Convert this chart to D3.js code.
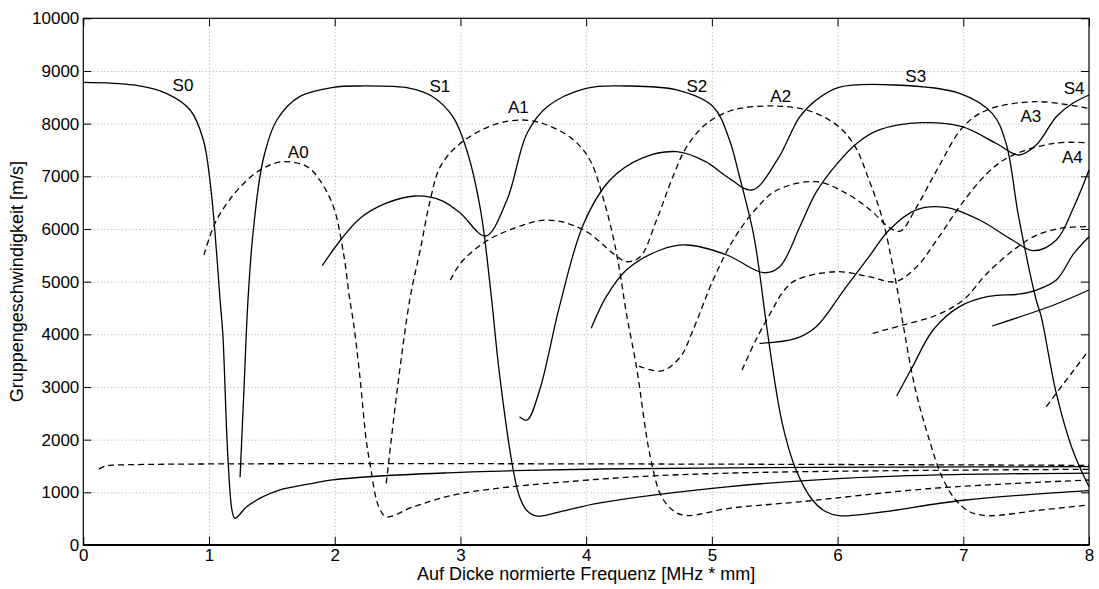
<!DOCTYPE html>
<html>
<head>
<meta charset="utf-8">
<script src="https://cdn.jsdelivr.net/npm/d3@7"></script>
<style>
  body { margin: 0; background: #fff; }
  svg { display: block; font-family: "Liberation Sans", Arial, sans-serif; }
  .grid line { stroke: #aaa; stroke-dasharray: 1,2.5; }
  .grid .domain { display: none; }
  .axis text { font-size: 17px; fill: #000; }
  .axis line { stroke: #000; }
  .axis .domain { display: none; }
  .mode { fill: none; stroke: #000; stroke-width: 1.3; }
  .mode--a { stroke-dasharray: 6,4; }
  .mode-label { font-size: 17px; }
  .axis-title { font-size: 18px; }
</style>
</head>
<body>
<div id="chart"></div>
<script>
const W = 1099, H = 589;
const margin = {left: 83.3, top: 18.3, right: 10, bottom: 44};

const xTicks = [0, 1, 2, 3, 4, 5, 6, 7, 8];
const yTicks = [0, 1000, 2000, 3000, 4000, 5000, 6000, 7000, 8000, 9000, 10000];

// symmetric modes (solid), [frequency*thickness, group velocity]
const s0 = [[0, 8785], [0.4, 8734], [0.66, 8576], [0.85, 8259], [0.955, 7690], [1.01, 6867],
  [1.048, 5918], [1.088, 4652], [1.11, 4000], [1.15, 1677], [1.185, 632], [1.207, 506],
  [1.3, 727], [1.43, 917], [1.56, 1044], [1.8, 1160], [2.0, 1240], [2.36, 1310], [2.9, 1370],
  [3.42, 1411], [4.11, 1443], [5.14, 1465], [6.5, 1480], [8, 1487]];
const s1 = [[1.247, 1285], [1.278, 2950], [1.31, 4652], [1.35, 5918], [1.43, 7310], [1.54, 8069],
  [1.72, 8512], [1.99, 8690], [2.2, 8715], [2.6, 8671], [2.78, 8512], [2.94, 8132], [3.05, 7500],
  [3.16, 6360], [3.24, 4841], [3.31, 3260], [3.42, 1424], [3.47, 917], [3.53, 650], [3.61, 550],
  [3.79, 630], [4.11, 800], [5.14, 1110], [6.0, 1260], [6.8, 1330], [8, 1365]];
const s2 = [[1.9, 5303], [2.05, 5800], [2.2, 6200], [2.4, 6480], [2.64, 6626], [2.85, 6540],
  [3.0, 6297], [3.2, 5867], [3.37, 6550], [3.53, 7817], [3.69, 8322], [4.0, 8671], [4.32, 8715],
  [4.72, 8639], [5.01, 8322], [5.14, 7690], [5.22, 6993], [5.33, 5918], [5.38, 5159], [5.44, 4082],
  [5.56, 2310], [5.67, 1424], [5.8, 854], [5.9, 640], [6.01, 557], [6.3, 610], [7.0, 850], [8, 1031]];
const s3 = [[3.47, 2436], [3.53, 2373], [3.63, 2943], [3.79, 4550], [3.98, 6100], [4.19, 6930],
  [4.45, 7350], [4.72, 7468], [4.95, 7280], [5.12, 6993], [5.32, 6740], [5.52, 7310], [5.7, 8132],
  [5.83, 8449], [6.01, 8690], [6.46, 8734], [6.97, 8576], [7.23, 8196], [7.34, 7627], [7.44, 6233],
  [7.58, 4652], [7.62, 4335], [7.74, 2880], [7.87, 1804], [8.0, 1107]];
const s4 = [[4.04, 4114], [4.16, 4715], [4.32, 5221], [4.59, 5601], [4.8, 5696], [5.12, 5506],
  [5.41, 5170], [5.54, 5284], [5.7, 6043], [5.83, 6700], [6.0, 7250], [6.15, 7620], [6.33, 7880],
  [6.67, 8018], [6.99, 7942], [7.26, 7627], [7.44, 7405], [7.58, 7595], [7.74, 8132], [7.87, 8386],
  [8.0, 8544]];
const s5 = [[5.38, 3829], [5.67, 3924], [5.83, 4145], [6.05, 4841], [6.25, 5474], [6.41, 5981],
  [6.62, 6360], [6.86, 6411], [7.13, 6170], [7.39, 5791], [7.56, 5588], [7.74, 5791], [7.88, 6423],
  [8.0, 7120]];
const s6 = [[6.47, 2829], [6.59, 3355], [6.76, 4082], [6.97, 4525], [7.19, 4715], [7.45, 4766],
  [7.58, 4841], [7.74, 5031], [7.88, 5538], [8.0, 5854]];
const s7 = [[7.23, 4158], [7.72, 4557], [8.0, 4841]];

// antisymmetric modes (dashed)
const aFlat = [[0.125, 1440], [0.17, 1495], [0.21, 1512], [8, 1512]];
const a0 = [[0.96, 5506], [1.06, 6170], [1.25, 6803], [1.43, 7152], [1.59, 7278], [1.78, 7183],
  [1.88, 6930], [1.99, 6423], [2.07, 5538], [2.12, 4652], [2.15, 4209], [2.2, 3200], [2.25, 2000],
  [2.28, 1551], [2.35, 727], [2.41, 538], [2.63, 730], [3.0, 975], [4.11, 1250], [5.14, 1365],
  [8, 1437]];
const a1 = [[2.41, 1171], [2.5, 3000], [2.6, 4700], [2.68, 5601], [2.76, 6550], [2.84, 7183],
  [3.0, 7627], [3.26, 7974], [3.5, 8069], [3.69, 7974], [3.9, 7690], [4.03, 7310], [4.14, 6550],
  [4.22, 5791], [4.27, 5159], [4.32, 4399], [4.4, 3385], [4.51, 1677], [4.6, 917], [4.7, 640],
  [4.8, 560], [5.14, 697], [5.7, 820], [6.76, 1076], [8, 1234]];
const a2 = [[2.92, 5031], [3.0, 5348], [3.18, 5728], [3.39, 5981], [3.69, 6170], [3.98, 5981],
  [4.23, 5506], [4.32, 5379], [4.43, 5474], [4.56, 6170], [4.69, 6993], [4.8, 7562], [4.96, 8006],
  [5.17, 8259], [5.5, 8335], [5.78, 8240], [6.01, 7942], [6.14, 7562], [6.25, 6930], [6.36, 6170],
  [6.44, 5284], [6.49, 4652], [6.52, 4209], [6.62, 2943], [6.73, 1994], [6.83, 1297], [6.94, 854],
  [7.05, 632], [7.2, 557], [7.6, 660], [8, 760]];
const a3 = [[4.42, 3398], [4.6, 3304], [4.75, 3575], [4.85, 4082], [5.01, 5031], [5.17, 5791],
  [5.35, 6380], [5.52, 6740], [5.83, 6898], [6.07, 6677], [6.26, 6360], [6.42, 6013], [6.5, 5960],
  [6.63, 6423], [6.79, 7120], [7.0, 7942], [7.19, 8259], [7.58, 8417], [7.99, 8291]];
const a4 = [[5.24, 3323], [5.35, 3892], [5.48, 4462], [5.57, 4820], [5.67, 5031], [5.99, 5189],
  [6.25, 5095], [6.46, 5000], [6.63, 5284], [6.79, 5791], [6.97, 6423], [7.19, 7057], [7.37, 7373],
  [7.72, 7627], [7.99, 7638]];
const a5 = [[6.28, 4019], [6.52, 4177], [6.79, 4367], [7.0, 4652], [7.19, 5159], [7.4, 5601],
  [7.56, 5854], [7.77, 6013], [7.99, 6043]];
const a6 = [[7.66, 2626], [7.99, 3670]];

const symModes = [s0, s1, s2, s3, s4, s5, s6, s7];
const antiModes = [aFlat, a0, a1, a2, a3, a4, a5, a6];

const modeLabels = [
  {text: 'S0', x: 0.793, v: 8734}, {text: 'S1', x: 2.837, v: 8715},
  {text: 'S2', x: 4.88, v: 8715}, {text: 'S3', x: 6.622, v: 8905},
  {text: 'S4', x: 7.882, v: 8671}, {text: 'A0', x: 1.71, v: 7467},
  {text: 'A1', x: 3.461, v: 8310}, {text: 'A2', x: 5.548, v: 8525},
  {text: 'A3', x: 7.537, v: 8145}, {text: 'A4', x: 7.868, v: 7372}
];

const innerW = W - margin.left - margin.right;
const innerH = H - margin.top - margin.bottom;

const svg = d3.select('#chart').append('svg')
  .attr('width', W)
  .attr('height', H);

const g = svg.append('g')
  .attr('transform', `translate(${margin.left},${margin.top})`);

const x = d3.scaleLinear().domain([0, 8]).range([0, innerW]);
const y = d3.scaleLinear().domain([0, 10000]).range([innerH, 0]);

// dotted grid
g.append('g').attr('class', 'grid')
  .call(d3.axisBottom(x).tickValues(xTicks.slice(1, -1)).tickSize(innerH).tickFormat(''));
g.append('g').attr('class', 'grid')
  .call(d3.axisLeft(y).tickValues(yTicks.slice(1, -1)).tickSize(-innerW).tickFormat(''));

// curves
const line = d3.line()
  .x(d => x(d[0]))
  .y(d => y(d[1]))
  .curve(d3.curveCatmullRom.alpha(0.5));

g.selectAll('.mode--s')
  .data(symModes)
  .enter().append('path')
  .attr('class', 'mode mode--s')
  .attr('d', line);

g.selectAll('.mode--a')
  .data(antiModes)
  .enter().append('path')
  .attr('class', 'mode mode--a')
  .attr('d', line);

g.selectAll('.mode-label')
  .data(modeLabels)
  .enter().append('text')
  .attr('class', 'mode-label')
  .attr('x', d => x(d.x))
  .attr('y', d => y(d.v))
  .attr('dy', '0.36em')
  .attr('text-anchor', 'middle')
  .text(d => d.text);

// axes with inward ticks on all four sides
g.append('g').attr('class', 'axis')
  .attr('transform', `translate(0,${innerH})`)
  .call(d3.axisBottom(x).tickValues(xTicks).tickFormat(d3.format('d')).tickSize(-8).tickPadding(4));
g.append('g').attr('class', 'axis')
  .call(d3.axisTop(x).tickValues(xTicks).tickFormat('').tickSize(-8));
g.append('g').attr('class', 'axis')
  .call(d3.axisLeft(y).tickValues(yTicks).tickFormat(d3.format('d')).tickSize(-8).tickPadding(4));
g.append('g').attr('class', 'axis')
  .attr('transform', `translate(${innerW},0)`)
  .call(d3.axisRight(y).tickValues(yTicks).tickFormat('').tickSize(-8));

g.append('rect')
  .attr('width', innerW)
  .attr('height', innerH)
  .attr('fill', 'none')
  .attr('stroke', '#000')
  .attr('stroke-width', 1.2);
g.append('line')
  .attr('x1', 0).attr('x2', innerW)
  .attr('y1', innerH).attr('y2', innerH)
  .attr('stroke', '#000')
  .attr('stroke-width', 2);

svg.append('text')
  .attr('class', 'axis-title')
  .attr('transform', `translate(${margin.left + innerW / 2},580)`)
  .attr('text-anchor', 'middle')
  .text('Auf Dicke normierte Frequenz [MHz * mm]');

svg.append('text')
  .attr('class', 'axis-title')
  .attr('transform', `translate(23,${margin.top + innerH / 2}) rotate(-90)`)
  .attr('text-anchor', 'middle')
  .text('Gruppengeschwindigkeit [m/s]');
</script>
</body>
</html>
